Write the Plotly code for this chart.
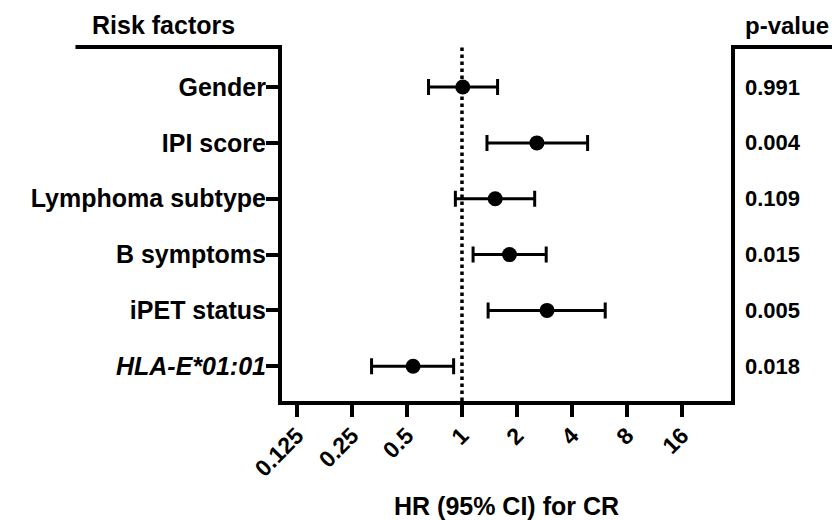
import math
import plotly.graph_objects as go

# ---- data ----
factors = ["Gender", "IPI score", "Lymphoma subtype", "B symptoms", "iPET status", "HLA-E*01:01"]
factor_labels = ["<b>Gender</b>", "<b>IPI score</b>", "<b>Lymphoma subtype</b>",
                 "<b>B symptoms</b>", "<b>iPET status</b>", "<b><i>HLA-E*01:01</i></b>"]
hr = [1.01, 2.57, 1.52, 1.82, 2.92, 0.54]
ci_low = [0.656, 1.37, 0.92, 1.15, 1.39, 0.32]
ci_high = [1.566, 4.87, 2.50, 2.89, 6.08, 0.90]
p_values = ["0.991", "0.004", "0.109", "0.015", "0.005", "0.018"]
x_ticks = [0.125, 0.25, 0.5, 1, 2, 4, 8, 16]
x_tick_labels = ["0.125", "0.25", "0.5", "1", "2", "4", "8", "16"]

ypos = list(range(len(factors), 0, -1))  # 6..1, top to bottom

FONT = "Liberation Sans, Arial, sans-serif"

fig = go.Figure()
fig.add_trace(go.Scatter(
    x=hr, y=ypos, mode="markers",
    marker=dict(color="black", size=15, symbol="circle"),
    error_x=dict(type="data", symmetric=False,
                 array=[h - hv for h, hv in zip(ci_high, hr)],
                 arrayminus=[hv - l for hv, l in zip(hr, ci_low)],
                 color="black", thickness=3, width=8),
    showlegend=False, cliponaxis=False,
))

# reference line at HR = 1
fig.add_shape(type="line", xref="x", yref="paper", x0=1, x1=1, y0=0, y1=1,
              line=dict(color="black", width=3.5, dash="dot"), layer="below")
# top rules beside the plot
fig.add_shape(type="line", xref="paper", yref="paper", x0=-0.46, x1=0.0, y0=1, y1=1,
              line=dict(color="black", width=4))
fig.add_shape(type="line", xref="paper", yref="paper", x0=1.0, x1=1.3, y0=1, y1=1,
              line=dict(color="black", width=4))

annotations = []
for yv, p in zip(ypos, p_values):
    annotations.append(dict(x=1.027, xref="paper", y=yv, yref="y", text=f"<b>{p}</b>",
                            showarrow=False, xanchor="left", yanchor="middle",
                            font=dict(size=22, color="black", family=FONT)))
annotations.append(dict(x=-0.264, xref="paper", y=1.062, yref="paper", text="<b>Risk factors</b>",
                        showarrow=False, xanchor="center", yanchor="middle",
                        font=dict(size=25, color="black", family=FONT)))
annotations.append(dict(x=1.027, xref="paper", y=1.062, yref="paper", text="<b>p-value</b>",
                        showarrow=False, xanchor="left", yanchor="middle",
                        font=dict(size=24, color="black", family=FONT)))
annotations.append(dict(x=0.5, xref="paper", y=-0.298, yref="paper", text="<b>HR (95% CI) for CR</b>",
                        showarrow=False, xanchor="center", yanchor="middle",
                        font=dict(size=25, color="black", family=FONT)))

fig.update_layout(
    width=832, height=520,
    margin=dict(l=282, r=101, t=47, b=119),
    paper_bgcolor="white", plot_bgcolor="white",
    font=dict(family=FONT, color="black", size=22),
    annotations=annotations,
    xaxis=dict(type="log", range=[math.log10(0.1035), math.log10(29.67)],
               tickvals=x_ticks, ticktext=[f"<b>{t}</b>" for t in x_tick_labels],
               tickangle=-45, tickfont=dict(size=23),
               ticks="outside", ticklen=12, tickwidth=4, tickcolor="black",
               ticklabelstandoff=-4,
               showline=True, linewidth=4, linecolor="black", mirror=False,
               showgrid=False, zeroline=False),
    yaxis=dict(range=[0.378, 6.717], tickvals=ypos, ticktext=factor_labels,
               tickfont=dict(size=25),
               ticks="outside", ticklen=12, tickwidth=4, tickcolor="black",
               ticklabelstandoff=-5,
               showline=True, linewidth=4, linecolor="black", mirror=True,
               showgrid=False, zeroline=False),
)

fig.write_html("out.html", config={"displayModeBar": False},
               post_script="document.body.style.margin='0px';document.body.style.overflow='hidden';")
